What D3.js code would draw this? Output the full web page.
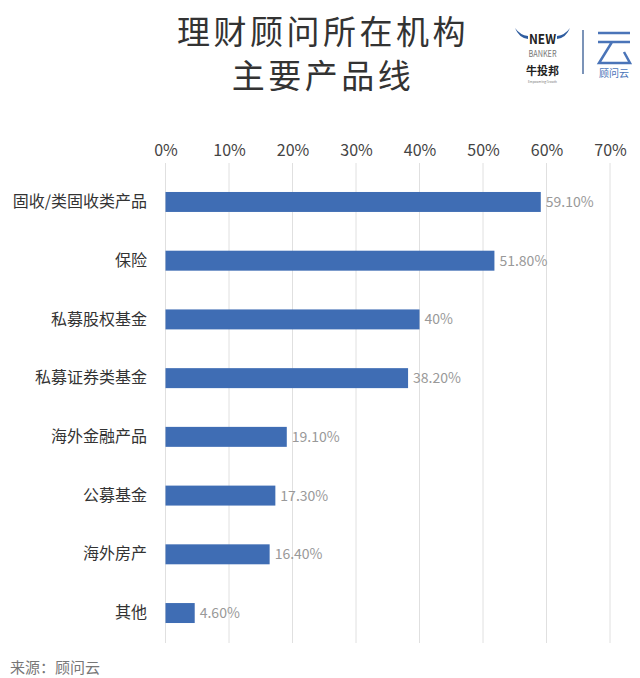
<!DOCTYPE html>
<html><head><meta charset="utf-8">
<script src="https://cdn.jsdelivr.net/npm/d3@7"></script>
<style>
html,body{margin:0;padding:0;background:#fff;}
text{font-family:"Noto Sans CJK SC","Noto Sans",sans-serif;}
</style></head>
<body><svg id="c" width="640" height="678"></svg>
<script>
const categories = ["固收/类固收类产品","保险","私募股权基金","私募证券类基金","海外金融产品","公募基金","海外房产","其他"];
const values = [0.591, 0.518, 0.40, 0.382, 0.191, 0.173, 0.164, 0.046];
const valueLabels = ["59.10%","51.80%","40%","38.20%","19.10%","17.30%","16.40%","4.60%"];
const tickValues = [0, 0.1, 0.2, 0.3, 0.4, 0.5, 0.6, 0.7];
const titleLines = ["理财顾问所在机构","主要产品线"];
const sourceText = "来源：顾问云";

const svg = d3.select("#c");
svg.append("rect").attr("width",640).attr("height",678).attr("fill","#fff");

const x = d3.scaleLinear().domain([0,0.7]).range([165.5,610]);
const y = d3.scaleBand().domain(categories).range([172.6,642.4]).paddingInner(0.66).paddingOuter(0.33);

// title
svg.selectAll("text.title").data(titleLines).join("text")
  .attr("class","title")
  .attr("x",323).attr("y",(d,i)=>44+i*44)
  .attr("text-anchor","middle")
  .attr("font-size",33).attr("letter-spacing",3.5)
  .attr("fill","#333").text(d=>d);

// gridlines
svg.append("g").selectAll("line").data(tickValues).join("line")
  .attr("x1",d=>x(d)).attr("x2",d=>x(d))
  .attr("y1",163).attr("y2",643)
  .attr("stroke","#e0e0e0").attr("stroke-width",1);

// top axis labels
const ax = svg.append("g").attr("transform","translate(0,156)")
  .call(d3.axisTop(x).tickValues(tickValues).tickFormat(d3.format(".0%")).tickSize(0).tickPadding(0));
ax.select(".domain").remove();
ax.selectAll("text").attr("font-size",16).attr("fill","#444")
  .attr("font-family","'Noto Sans CJK SC','Noto Sans',sans-serif");

// bars
svg.append("g").selectAll("rect").data(values).join("rect")
  .attr("x",x(0)).attr("y",(d,i)=>y(categories[i]))
  .attr("width",d=>x(d)-x(0)).attr("height",y.bandwidth())
  .attr("fill","#3f6db4");

// value labels
svg.append("g").selectAll("text").data(values).join("text")
  .attr("x",d=>x(d)+5).attr("y",(d,i)=>y(categories[i])+y.bandwidth()/2)
  .attr("dy","0.36em").attr("font-size",14).attr("fill","#999")
  .text((d,i)=>valueLabels[i]);

// category labels
const ay = svg.append("g").attr("transform","translate(147,0)")
  .call(d3.axisLeft(y).tickSize(0).tickPadding(0));
ay.select(".domain").remove();
ay.selectAll("text").attr("font-size",16).attr("fill","#333")
  .attr("font-family","'Noto Sans CJK SC','Noto Sans',sans-serif");

// source
svg.append("text").attr("x",10).attr("y",673).attr("font-size",15).attr("fill","#777").text(sourceText);

// logo
const lg = svg.append("g");
lg.append("path").attr("d","M515,28 Q519,38 528,39 L528,36 Q520,35 515,28Z").attr("fill","#2f5da0");
lg.append("path").attr("d","M570,28 Q566,38 557,39 L557,36 Q565,35 570,28Z").attr("fill","#2f5da0");
lg.append("text").attr("x",542.5).attr("y",44).attr("text-anchor","middle")
  .attr("font-size",13).attr("font-weight","bold").attr("fill","#222")
  .attr("font-family","'DejaVu Sans Condensed','Liberation Sans Narrow',sans-serif").attr("textLength",27).attr("lengthAdjust","spacingAndGlyphs").text("NEW");
lg.append("text").attr("x",542.5).attr("y",57).attr("text-anchor","middle")
  .attr("font-size",9).attr("fill","#777")
  .attr("font-family","'DejaVu Sans Condensed','Liberation Sans Narrow',sans-serif").attr("textLength",28).attr("lengthAdjust","spacingAndGlyphs").text("BANKER");
lg.append("text").attr("x",542.5).attr("y",75).attr("text-anchor","middle")
  .attr("font-size",11).attr("font-weight","bold").attr("fill","#222")
  .attr("font-family","'Noto Serif CJK SC','Noto Sans CJK SC',serif").text("牛投邦");
lg.append("text").attr("x",542.5).attr("y",83).attr("text-anchor","middle")
  .attr("font-size",3).attr("fill","#777").attr("font-family","sans-serif").text("Empowering Growth");
lg.append("line").attr("x1",583).attr("x2",583).attr("y1",30).attr("y2",74)
  .attr("stroke","#4f6fa0").attr("stroke-width",1.5);
// stylised 云
lg.append("path").attr("d","M598,33 L630,33 M598,42 L630,42 M612,42 L599,63 L630,63 L624,52")
  .attr("fill","none").attr("stroke","#4a74b8").attr("stroke-width",2.5);
lg.append("text").attr("x",614).attr("y",77).attr("text-anchor","middle")
  .attr("font-size",10).attr("fill","#4a74b8").text("顾问云");
</script></body></html>
